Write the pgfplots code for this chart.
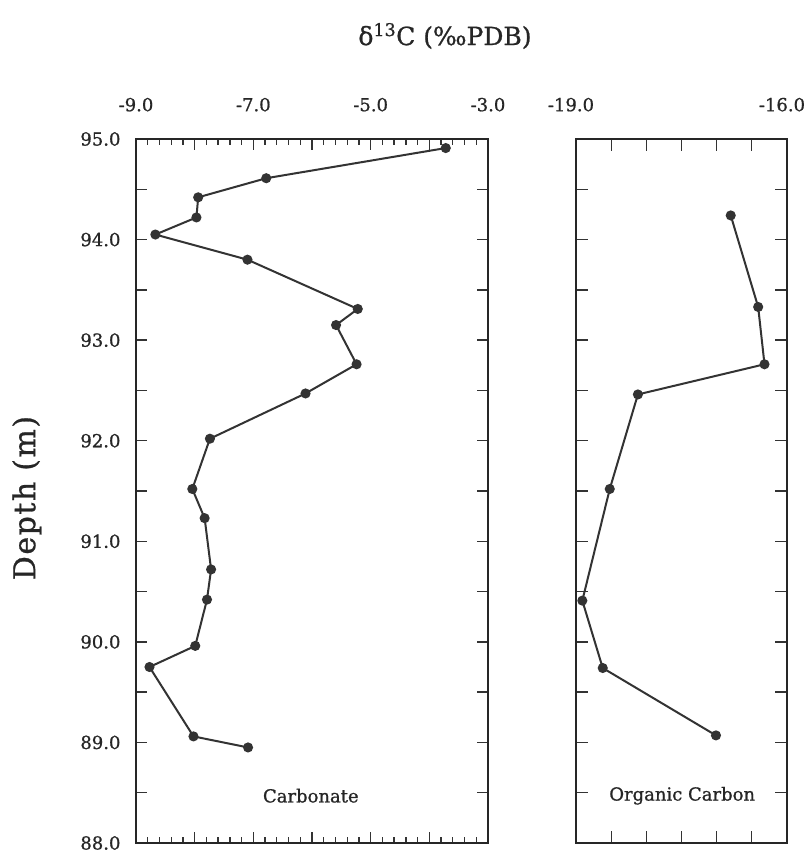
\documentclass[border=0pt]{standalone}
\usepackage{pgfplots}
\pgfplotsset{compat=1.18}
\usepackage{fontspec}
\setmainfont{DejaVu Serif}[FakeBold=0.9]

\newcommand{\tickfont}{\fontsize{18}{22}\selectfont}

\pgfplotsset{
  profile/.style={
    scale only axis,
    anchor=south west,
    height=704pt,
    ymin=88, ymax=95,
    ytick={88,88.5,...,95},
    tick align=inside,
    xticklabel pos=upper,
    major tick length=11pt,
    minor tick length=6pt,
    every tick/.style={line width=1.3pt, black!80},
    axis line style={line width=2pt, black!85},
    tick label style={font=\tickfont, black!85},
    xticklabel style={yshift=24pt},
    yticklabel style={xshift=-12pt},
    clip=false,
  },
  series/.style={line width=2pt, black!80, mark=*, mark size=4pt,
    mark options={fill=black!80, draw=black!80}},
}

\begin{document}
\begin{tikzpicture}[font=\tickfont]
\useasboundingbox (-136pt,-11pt) rectangle (670pt,843pt);

\begin{axis}[profile, at={(0pt,0pt)}, width=352pt,
  xmin=-9, xmax=-3,
  xtick={-9,...,-3},
  xticklabels={-9.0,,-7.0,,-5.0,,-3.0},
  minor x tick num=4,
  yticklabels={88.0,,89.0,,90.0,,91.0,,92.0,,93.0,,94.0,,95.0},
  ylabel={Depth (m)},
  ylabel style={at={(axis description cs:-0.31,0.49)}, anchor=center,
    font=\fontsize{30}{34}\selectfont\addfontfeature{LetterSpace=5}, black!85},
]
\addplot[series] coordinates {
  (-3.72,94.91) (-6.78,94.61) (-7.94,94.42) (-7.97,94.22) (-8.67,94.05)
  (-7.10,93.80) (-5.22,93.31) (-5.59,93.15) (-5.24,92.76) (-6.11,92.47)
  (-7.74,92.02) (-8.04,91.52) (-7.83,91.23) (-7.72,90.72) (-7.79,90.42)
  (-7.99,89.96) (-8.77,89.75) (-8.02,89.06) (-7.09,88.95)
};
\node[black!85] at (axis cs:-6.02,88.47) {Carbonate};
\end{axis}

\begin{axis}[profile, at={(440pt,0pt)}, width=211pt,
  xmin=-19, xmax=-16,
  xtick={-19,-18.5,...,-16},
  xticklabels={-19.0,,,,,,-16.0},
  xticklabel style={xshift=-5pt},
  major tick length=12pt,
  yticklabels={},
]
\addplot[series] coordinates {
  (-16.80,94.24) (-16.41,93.33) (-16.32,92.76) (-18.12,92.46)
  (-18.52,91.52) (-18.91,90.41) (-18.62,89.74) (-17.01,89.07)
};
\node[black!85] at (axis cs:-17.49,88.47) {Organic Carbon};
\end{axis}

\node[black!85, font=\fontsize{25}{30}\selectfont] at (309pt,807pt) {δ\textsuperscript{13}C (‰PDB)};
\end{tikzpicture}
\end{document}
